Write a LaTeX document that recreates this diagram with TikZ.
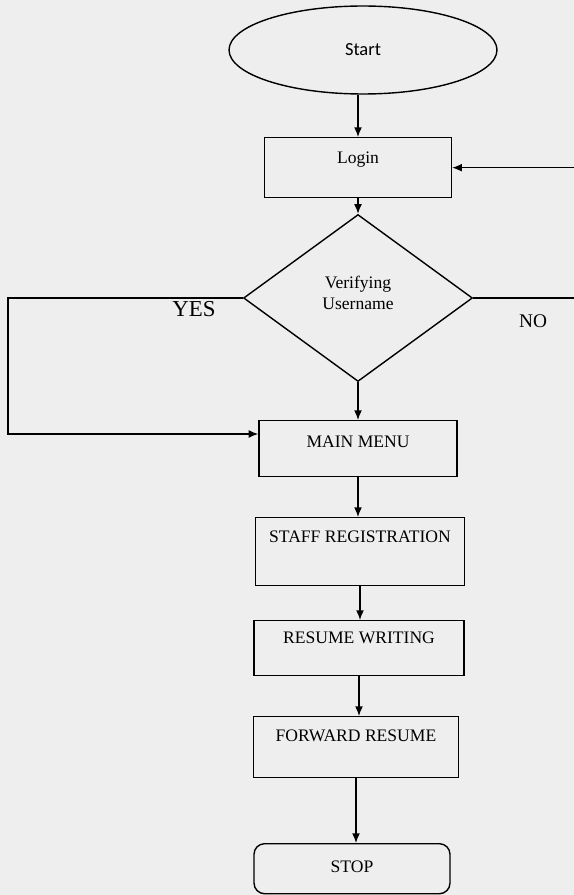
\documentclass[tikz,border=0pt]{standalone}
\usepackage{fontspec}
\setmainfont{Liberation Serif}
\newfontfamily\startfont{Carlito}
\usetikzlibrary{shapes,arrows,arrows.meta,positioning,calc}
\definecolor{paperbg}{RGB}{238,238,238}

\begin{document}
\begin{tikzpicture}[x=0.02cm, y=-0.02cm, >={Latex[length=5.5pt,width=4.5pt]}, thick,
    flowbox/.style={draw, rectangle, anchor=north, inner sep=0pt}]
    \fill [paperbg] (0,0) rectangle (574,895);
    \useasboundingbox (0,0) rectangle (574,895);

    \node [draw, ellipse, minimum width=5.36cm, minimum height=1.76cm, inner sep=0pt, font=\startfont\fontsize{10.5}{12}\selectfont] (start) at (363,50) {Start};
    \node [flowbox, minimum width=3.74cm, text height=0.52cm, text depth=0.68cm] (login) at (358,137) {Login};
    \node [draw, diamond, minimum width=4.58cm, minimum height=3.34cm, inner sep=0pt, align=center, text depth=0.2cm] (verify) at (358,298) {Verifying\\Username};
    \node [flowbox, minimum width=3.96cm, text height=0.54cm, text depth=0.58cm] (menu) at (358,420) {MAIN MENU};
    \node [flowbox, minimum width=4.18cm, text height=0.50cm, text depth=0.86cm] (staff) at (360,517) {STAFF REGISTRATION};
    \node [flowbox, minimum width=4.20cm, text height=0.46cm, text depth=0.64cm] (resume) at (359,620) {RESUME WRITING};
    \node [flowbox, minimum width=4.10cm, text height=0.50cm, text depth=0.72cm] (forward) at (356,716) {FORWARD RESUME};
    \node [flowbox, rounded corners=6pt, minimum width=3.92cm, text height=0.58cm, text depth=0.42cm] (stop) at (352,843) {STOP};

    \node [font=\fontsize{13}{15}\selectfont] (yes) at (194,309) {YES};
    \node [font=\fontsize{11}{13}\selectfont] (no) at (533,321) {NO};

    \coordinate (yesdown) at (8,434);
    \coordinate (noturn) at (600,300);

    \draw [->] (start.south -| login.north) -- (login.north);
    \draw [->] (login.south) -- (verify.north);
    \draw [->] (verify.south) -- (menu.north);
    \draw [->] (menu.south) -- (menu.south |- staff.north);
    \draw [->] (staff.south) -- (staff.south |- resume.north);
    \draw [->] (resume.south) -- (resume.south |- forward.north);
    \draw [->] (forward.south) -- (forward.south |- stop.north);

    \draw [->] (verify.west) -- (verify.west -| yesdown) -- (yesdown) -- (yesdown -| menu.west);
    \draw [->] (verify.east) -- (verify.east -| noturn) |- (login.east);
\end{tikzpicture}
\end{document}
